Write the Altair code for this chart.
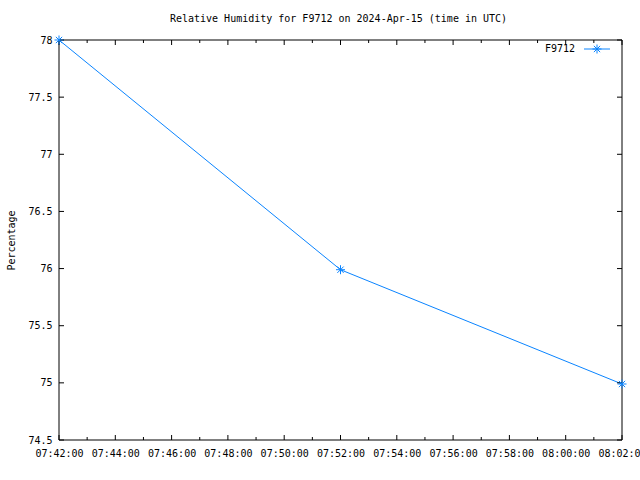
import altair as alt
import pandas as pd

# ---- data ----
date = "2024-04-15"
times = ["07:42:00", "07:52:00", "08:02:00"]
humidity = [78.0, 75.99, 74.99]
series_name = "F9712"

x_major_labels = ["07:42:00", "07:44:00", "07:46:00", "07:48:00", "07:50:00", "07:52:00",
                  "07:54:00", "07:56:00", "07:58:00", "08:00:00", "08:02:00"]
x_minor_labels = ["07:43:00", "07:45:00", "07:47:00", "07:49:00", "07:51:00",
                  "07:53:00", "07:55:00", "07:57:00", "07:59:00", "08:01:00"]
y_ticks = [74.5, 75.0, 75.5, 76.0, 76.5, 77.0, 77.5, 78.0]

title_text = "Relative Humidity for F9712 on 2024-Apr-15 (time in UTC)"
y_title = "Percentage"

# ---- helpers ----
def iso(t):
    return f"{date}T{t}Z"

def dt(t):
    h, m, s = (int(v) for v in t.split(":"))
    return alt.DateTime(year=2024, month=4, date=15, hours=h, minutes=m, seconds=s, utc=True)

FONT = "DejaVu Sans Mono"
COLOR = "#0a84ff"
W, H = 563, 400

df = pd.DataFrame({"time": [iso(t) for t in times], "value": humidity, "series": series_name})
major_df = pd.DataFrame({"time": [iso(t) for t in x_major_labels]})
minor_df = pd.DataFrame({"time": [iso(t) for t in x_minor_labels]})
ytick_df = pd.DataFrame({"value": y_ticks})
legend_df = pd.DataFrame({"series": [series_name], "title": [title_text]})

xscale = alt.Scale(type="utc", domain=[dt(x_major_labels[0]), dt(x_major_labels[-1])], nice=False)
yscale = alt.Scale(domain=[y_ticks[0], y_ticks[-1]], nice=False, zero=False)

star = "M-1,0H1M0,-1V1M-0.7,-0.7L0.7,0.7M-0.7,0.7L0.7,-0.7"

x_axis = alt.Axis(values=[dt(t) for t in x_major_labels],
                  labelExpr="utcFormat(datum.value, '%H:%M:%S')",
                  title=None, ticks=False, domain=False, grid=False,
                  labelFont=FONT, labelFontSize=10, labelColor="black",
                  labelPadding=8, labelFlush=False, labelOverlap=False)
y_axis = alt.Axis(values=y_ticks, title=y_title, ticks=False, domain=False, grid=False,
                  labelFont=FONT, labelFontSize=10, labelColor="black",
                  labelPadding=7, labelFlush=False, labelOverlap=False,
                  format="~g",
                  titleFont=FONT, titleFontSize=10, titleFontWeight="normal",
                  titleColor="black", titleX=-48, titleY=H / 2, titleAngle=-90,
                  titleAlign="center", titleBaseline="middle")

def xe():
    return alt.X("time:T", scale=xscale, axis=x_axis)

def ye():
    return alt.Y("value:Q", scale=yscale, axis=y_axis)

line = alt.Chart(df).mark_line(color=COLOR, strokeWidth=1).encode(x=xe(), y=ye())
pts = alt.Chart(df).mark_point(shape=star, size=81, filled=False, color=COLOR,
                               strokeWidth=1, opacity=1).encode(x=xe(), y=ye())

tick_color = "black"
xmaj_b = alt.Chart(major_df).mark_rule(color=tick_color, strokeWidth=1).encode(
    x=xe(), y=alt.value(H), y2=alt.value(H - 5))
xmaj_t = alt.Chart(major_df).mark_rule(color=tick_color, strokeWidth=1).encode(
    x=xe(), y=alt.value(0), y2=alt.value(5))
xmin_b = alt.Chart(minor_df).mark_rule(color=tick_color, strokeWidth=1).encode(
    x=xe(), y=alt.value(H), y2=alt.value(H - 3))
xmin_t = alt.Chart(minor_df).mark_rule(color=tick_color, strokeWidth=1).encode(
    x=xe(), y=alt.value(0), y2=alt.value(3))
y_l = alt.Chart(ytick_df).mark_rule(color=tick_color, strokeWidth=1).encode(
    y=ye(), x=alt.value(0), x2=alt.value(5))
y_r = alt.Chart(ytick_df).mark_rule(color=tick_color, strokeWidth=1).encode(
    y=ye(), x=alt.value(W), x2=alt.value(W - 5))

frame = alt.Chart(legend_df).mark_rect(fill=None, stroke="black", strokeWidth=1).encode(
    x=alt.value(0), x2=alt.value(W), y=alt.value(0), y2=alt.value(H))

title = alt.Chart(legend_df).mark_text(font=FONT, fontSize=10, align="center",
                                       baseline="middle", color="black").encode(
    text="title:N", x=alt.value(W / 2 - 2), y=alt.value(-21))

leg_text = alt.Chart(legend_df).mark_text(font=FONT, fontSize=10, align="right",
                                          baseline="middle", color="black").encode(
    text="series:N", x=alt.value(516), y=alt.value(9))
leg_line = alt.Chart(legend_df).mark_rule(color=COLOR, strokeWidth=1).encode(
    x=alt.value(525), x2=alt.value(551), y=alt.value(9))
leg_pt = alt.Chart(legend_df).mark_point(shape=star, size=81, filled=False, color=COLOR,
                                         strokeWidth=1, opacity=1).encode(
    x=alt.value(538), y=alt.value(9))

chart = alt.layer(line, xmaj_b, xmaj_t, xmin_b, xmin_t, y_l, y_r, frame, pts,
                  title, leg_text, leg_line, leg_pt).properties(
    width=W, height=H,
    autosize=alt.AutoSizeParams(type="none"),
    padding={"left": 59, "top": 40, "right": 18, "bottom": 40},
    background="white",
).configure_view(stroke=None)

chart.save("out.html", embed_options={"renderer": "svg", "actions": False})
